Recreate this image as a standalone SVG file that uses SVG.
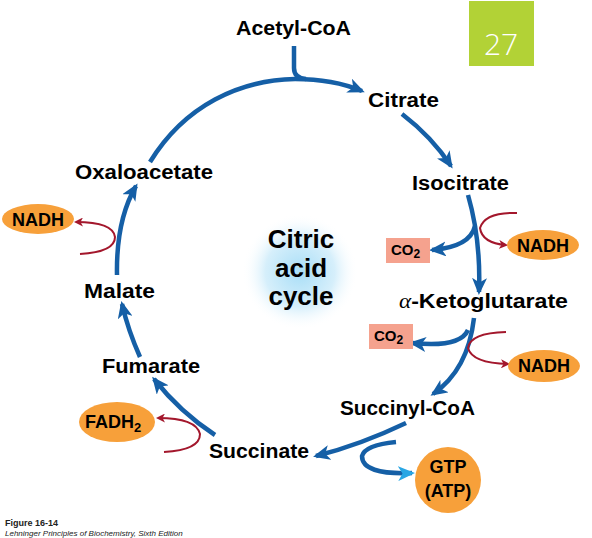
<svg xmlns="http://www.w3.org/2000/svg" width="592" height="538" viewBox="0 0 592 538">
<defs>
<style>
.lbl{font-family:"Liberation Sans",Arial,sans-serif;font-weight:bold;font-size:20px;fill:#000;}
.sm{font-family:"Liberation Sans",Arial,sans-serif;font-weight:bold;font-size:18px;fill:#000;}
.co{font-family:"Liberation Sans",Arial,sans-serif;font-weight:bold;font-size:15px;fill:#000;}
.big{font-family:"Liberation Sans",Arial,sans-serif;font-weight:bold;font-size:26px;fill:#000;text-anchor:middle;}
.blue{fill:none;stroke:#155fa6;stroke-width:4.5;stroke-linecap:butt;}
.red{fill:none;stroke:#a3172c;stroke-width:2;}
.orange{fill:#f7a03a;}
.salmon{fill:#f5a28e;}
</style>
<marker id="ab" markerUnits="userSpaceOnUse" markerWidth="17" markerHeight="15" viewBox="0 0 17 15" refX="14" refY="7.5" orient="auto">
<path d="M0,0 L17,7.5 L0,15 L4.5,7.5 z" fill="#155fa6"/>
</marker>
<marker id="ab2" markerUnits="userSpaceOnUse" markerWidth="17" markerHeight="15" viewBox="0 0 17 15" refX="14" refY="7.5" orient="auto">
<path d="M0,0 L17,7.5 L0,15 L4.5,7.5 z" fill="#29a6e4"/>
</marker>
<marker id="ar" markerUnits="userSpaceOnUse" markerWidth="9" markerHeight="9" viewBox="0 0 9 9" refX="7" refY="4.5" orient="auto">
<path d="M0,0 L9,4.5 L0,9 L2.5,4.5 z" fill="#a3172c"/>
</marker>
<radialGradient id="glow" cx="0.5" cy="0.5" r="0.5">
<stop offset="0" stop-color="#a9def7"/>
<stop offset="0.6" stop-color="#d6effb"/>
<stop offset="1" stop-color="#ffffff" stop-opacity="0"/>
</radialGradient>
</defs>
<rect width="592" height="538" fill="#ffffff"/>

<g id="badge">
<rect x="469" y="1" width="65" height="65" fill="#b2d236"/>
<text x="501" y="55" text-anchor="middle" style="font-family:'Open Sans','Liberation Sans',sans-serif;font-size:30px;font-weight:300;fill:#ffffff">27</text>
</g>

<g id="connectors">
<path class="blue" d="M294,46 L294,68 Q294,78 306,79"/>
<path class="blue" marker-end="url(#ab)" d="M150,162 C185,105 240,80 295,79 C320,79 345,84 362,91"/>
<path class="blue" marker-end="url(#ab)" d="M402,114 Q432,137 451,166"/>
<path class="blue" marker-end="url(#ab)" d="M468,195 Q481,240 479,292"/>
<path class="blue" marker-end="url(#ab)" d="M475,226 Q470,247 432,250"/>
<path class="red" marker-end="url(#ar)" d="M517,213 Q485,212 480,228 Q482,243 506,245"/>
<path class="blue" marker-end="url(#ab)" d="M474,318 Q468,370 433,394"/>
<path class="blue" marker-end="url(#ab)" d="M468,330 Q460,348 412,343"/>
<path class="red" marker-end="url(#ar)" d="M506,332 Q470,333 468,348 Q472,363 508,364"/>
<path class="blue" marker-end="url(#ab)" d="M406,423 Q360,445 316,456"/>
<path class="blue" marker-end="url(#ab2)" d="M396,442 Q365,445 362,456 Q362,475 412,473"/>
<path class="blue" marker-end="url(#ab)" d="M215,435 Q180,412 154,379"/>
<path class="red" marker-end="url(#ar)" d="M164,452 Q200,450 200,434 Q196,418 158,418"/>
<path class="blue" marker-end="url(#ab)" d="M140,357 Q128,330 122,304"/>
<path class="blue" marker-end="url(#ab)" d="M117,275 Q116,220 136,186"/>
<path class="red" marker-end="url(#ar)" d="M80,254 Q115,252 115,237 Q113,222 76,222"/>
</g>

<g id="center">
<circle cx="300" cy="272" r="58" fill="url(#glow)"/>
<text class="big" x="301" y="248">Citric</text>
<text class="big" x="301" y="277">acid</text>
<text class="big" x="301" y="305">cycle</text>
</g>

<g id="acetylcoa"><text class="lbl" x="236" y="35" textLength="115" lengthAdjust="spacingAndGlyphs">Acetyl-CoA</text></g>
<g id="citrate"><text class="lbl" x="368" y="107" textLength="71" lengthAdjust="spacingAndGlyphs">Citrate</text></g>
<g id="isocitrate"><text class="lbl" x="412" y="190" textLength="97" lengthAdjust="spacingAndGlyphs">Isocitrate</text></g>
<g id="oxaloacetate"><text class="lbl" x="75" y="179" textLength="138" lengthAdjust="spacingAndGlyphs">Oxaloacetate</text></g>
<g id="malate"><text class="lbl" x="84" y="298" textLength="71" lengthAdjust="spacingAndGlyphs">Malate</text></g>
<g id="akg"><text class="lbl" x="399" y="308" textLength="169" lengthAdjust="spacingAndGlyphs"><tspan style="font-family:'Liberation Serif',serif;font-style:italic;font-weight:normal">α</tspan>-Ketoglutarate</text></g>
<g id="succinylcoa"><text class="lbl" x="340" y="415" textLength="135" lengthAdjust="spacingAndGlyphs">Succinyl-CoA</text></g>
<g id="succinate"><text class="lbl" x="209" y="458" textLength="100" lengthAdjust="spacingAndGlyphs">Succinate</text></g>
<g id="fumarate"><text class="lbl" x="102" y="373" textLength="98" lengthAdjust="spacingAndGlyphs">Fumarate</text></g>

<g id="nadh1"><ellipse class="orange" cx="38" cy="219" rx="36" ry="15"/><text class="sm" x="38" y="226" text-anchor="middle">NADH</text></g>
<g id="nadh2"><ellipse class="orange" cx="543" cy="245" rx="36" ry="15"/><text class="sm" x="543" y="252" text-anchor="middle">NADH</text></g>
<g id="nadh3"><ellipse class="orange" cx="544" cy="366" rx="36" ry="16"/><text class="sm" x="544" y="372" text-anchor="middle">NADH</text></g>
<g id="fadh2"><ellipse class="orange" cx="117" cy="422" rx="38" ry="20"/><text class="sm" x="85" y="428">FADH<tspan font-size="13" dy="4">2</tspan></text></g>
<g id="gtp"><ellipse class="orange" cx="448" cy="480" rx="33" ry="33"/><text class="sm" x="448" y="473" text-anchor="middle">GTP</text><text class="sm" x="448" y="497" text-anchor="middle">(ATP)</text></g>
<g id="co2a"><rect class="salmon" x="386" y="238" width="44" height="25"/><text class="co" x="391" y="255">CO<tspan font-size="12" dy="3">2</tspan></text></g>
<g id="co2b"><rect class="salmon" x="369" y="324" width="44" height="25"/><text class="co" x="374" y="341">CO<tspan font-size="12" dy="3">2</tspan></text></g>

<g id="caption">
<text x="5" y="526" style="font-family:'Liberation Sans',Arial,sans-serif;font-weight:bold;font-size:9px;fill:#222">Figure 16-14</text>
<text x="5" y="536" style="font-family:'Liberation Sans',Arial,sans-serif;font-style:italic;font-size:8px;fill:#222">Lehninger Principles of Biochemistry, Sixth Edition</text>
</g>
</svg>
